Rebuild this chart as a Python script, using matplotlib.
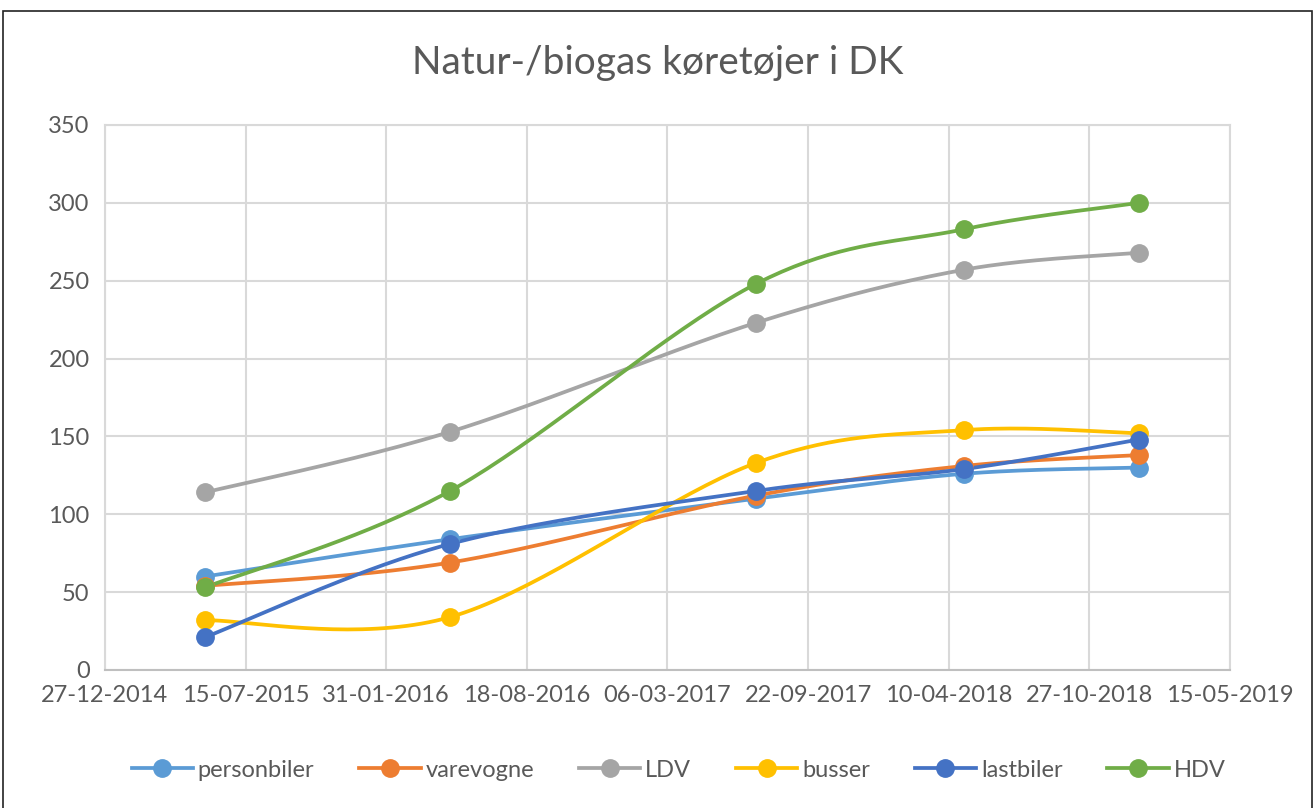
import matplotlib
matplotlib.use("Agg")
import matplotlib.pyplot as plt
import matplotlib.dates as mdates
from matplotlib.lines import Line2D
from matplotlib.patches import Rectangle
import numpy as np
import pandas as pd

plt.rcParams['font.family'] = ['Lato', 'DejaVu Sans']

dates = pd.to_datetime(["2015-05-18", "2016-05-01", "2017-07-10", "2018-05-01", "2019-01-05"])
personbiler = [60, 84, 110, 126, 130]
varevogne = [54, 69, 112, 131, 138]
LDV = [114, 153, 223, 257, 268]
busser = [32, 34, 133, 154, 152]
lastbiler = [21, 81, 115, 129, 148]
HDV = [53, 115, 248, 283, 300]

series = [
    ("personbiler", personbiler, "#5B9BD5"),
    ("varevogne", varevogne, "#ED7D31"),
    ("LDV", LDV, "#A5A5A5"),
    ("busser", busser, "#FFC000"),
    ("lastbiler", lastbiler, "#4472C4"),
    ("HDV", HDV, "#70AD47"),
]


def smooth(x, y, n=40):
    # Excel-style smoothed line: cubic Bezier with Catmull-Rom control points
    p = np.column_stack([x, y]).astype(float)
    pts = np.vstack([p[0], p, p[-1]])
    out = []
    t = np.linspace(0, 1, n)[:, None]
    for i in range(1, len(pts) - 2):
        p0, p1, p2, p3 = pts[i - 1], pts[i], pts[i + 1], pts[i + 2]
        c1 = p1 + (p2 - p0) / 6
        c2 = p2 - (p3 - p1) / 6
        seg = ((1 - t) ** 3) * p1 + 3 * ((1 - t) ** 2) * t * c1 + 3 * (1 - t) * t ** 2 * c2 + t ** 3 * p2
        out.append(seg if i == 1 else seg[1:])
    s = np.vstack(out)
    return s[:, 0], s[:, 1]


fig = plt.figure(figsize=(13.15, 8.08), dpi=100)
ax = fig.add_axes([0.0798, 0.1708, 0.8556, 0.6745])

xnum = mdates.date2num(dates)
handles = []
for name, vals, col in series:
    sx, sy = smooth(xnum, vals)
    ax.plot(sx, sy, color=col, linewidth=2.7, solid_capstyle="round", zorder=3)
    ax.plot(xnum, vals, linestyle="none", marker="o", markersize=12.5, color=col, zorder=4)
    handles.append(Line2D([0], [0], color=col, linewidth=2.7, marker="o", markersize=12.5))

start = mdates.date2num(pd.Timestamp("2014-12-27"))
ticks = start + np.arange(0, 1601, 200)
ax.set_xlim(ticks[0], ticks[-1])
ax.set_ylim(0, 350)
ax.set_xticks(ticks)
ax.set_xticklabels([mdates.num2date(t).strftime("%d-%m-%Y") for t in ticks])
ax.set_yticks(np.arange(0, 351, 50))

ax.grid(True, color="#d9d9d9", linewidth=1.5)
ax.set_axisbelow(True)
for s in ["top", "right", "left"]:
    ax.spines[s].set_color("#d9d9d9")
    ax.spines[s].set_linewidth(1.5)
ax.spines["bottom"].set_color("#bfbfbf")
ax.spines["bottom"].set_linewidth(1.5)
ax.tick_params(length=0, labelsize=17, colors="#595959", pad=11)

fig.text(0.5, 0.922, "Natur-/biogas køretøjer i DK", ha="center", va="center",
         fontsize=28, color="#595959")

fig.legend(handles, [s[0] for s in series], loc="center", bbox_to_anchor=(0.516, 0.047),
           ncol=6, frameon=False, fontsize=17, labelcolor="#595959",
           handlelength=2.6, handletextpad=0.2, columnspacing=1.9)

fig.patches.append(Rectangle((0.002, -0.01), 0.996, 0.997, transform=fig.transFigure,
                             fill=False, edgecolor="#222222", linewidth=1.2))

fig.savefig("out.png", dpi=100)
